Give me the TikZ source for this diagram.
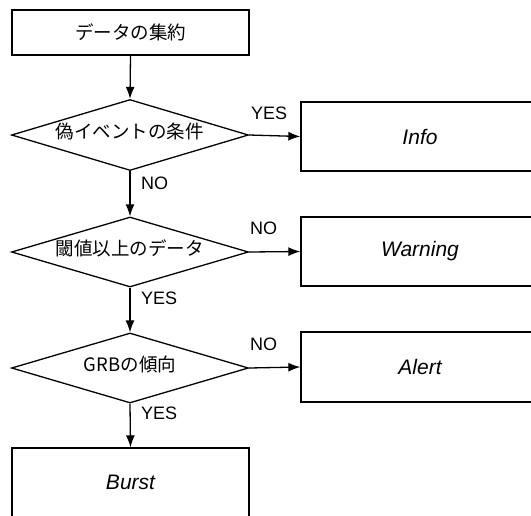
\documentclass[tikz,border=0pt]{standalone}
\usepackage{fontspec}
\setmainfont{Liberation Sans}
\newfontfamily\cjk{Noto Sans CJK JP}
\usetikzlibrary{arrows.meta,shapes.geometric}
\begin{document}
\begin{tikzpicture}[x=1pt,y=-1pt,
  every node/.style={inner sep=0pt},
  box/.style={draw, line width=1.3pt, rectangle, minimum width=237pt},
  decision/.style={draw, line width=1.3pt, diamond, aspect=3.4, minimum width=237pt, minimum height=71pt, text height=14pt, text depth=8pt, font=\cjk\fontsize{18.5}{20}\selectfont},
  result/.style={font=\itshape\fontsize{21}{24}\selectfont},
  lbl/.style={font=\fontsize{18}{20}\selectfont, anchor=west},
  arr/.style={draw, line width=1.3pt, -{Latex[length=12pt,width=9pt]}}]
\useasboundingbox (0,0) rectangle (531,515);
\clip (0,0) rectangle (531,515);
% left column
\node[box, minimum height=45pt, font=\cjk\fontsize{18.5}{20}\selectfont] (top) at (130.5,32.5) {データの集約};
\node[decision] (d1) at (130,135) {偽イベントの条件};
\node[decision, minimum height=70pt] (d2) at (130,252) {閾値以上のデータ};
\node[decision, minimum height=70pt] (d3) at (130,368) {GRBの傾向};
\node[box, minimum height=69pt, result] (burst) at (130.5,482.5) {Burst};
% right column
\node[box, minimum width=238pt, minimum height=69pt, result] (info) at (420,136.5) {Info};
\node[box, minimum width=238pt, minimum height=69pt, result] (warn) at (420,251.5) {Warning};
\node[box, minimum width=238pt, minimum height=70pt, result] (alert) at (420,367) {Alert};
% connectors
\draw[arr] (top.south) -- (d1.north);
\draw[arr] (d1.south) -- (d2.north);
\draw[arr] (d2.south) -- (d3.north);
\draw[arr] (d3.south) -- (burst.north);
\draw[arr] (d1.east) -- (info.west);
\draw[arr] (d2.east) -- (warn.west);
\draw[arr] (d3.east) -- (alert.west);
% labels
\node[lbl] (l1) at (251,113) {YES};
\node[lbl] (l2) at (141,183) {NO};
\node[lbl] (l3) at (250,228) {NO};
\node[lbl] (l4) at (141,298) {YES};
\node[lbl] (l5) at (250,344) {NO};
\node[lbl] (l6) at (141,413) {YES};
\end{tikzpicture}
\end{document}
